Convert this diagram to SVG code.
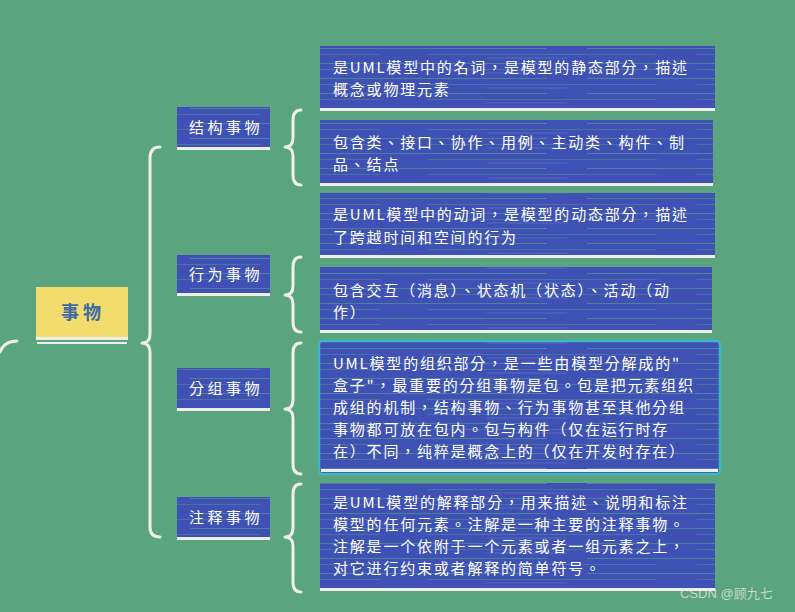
<svg xmlns="http://www.w3.org/2000/svg" width="795" height="612" viewBox="0 0 795 612">
<defs>
<pattern id="streak" width="397" height="15" patternUnits="userSpaceOnUse">
<rect width="397" height="15" fill="#3f51b5"/>
<path d="M0 3.5 H150 M190 3.5 H397" stroke="#55a08a" stroke-width="1" opacity="0.6"/>
<path d="M30 9.5 H260 M300 9.5 H380" stroke="#5aa47f" stroke-width="0.8" opacity="0.5"/>
<path d="M90 13 H170" stroke="#7f8fd8" stroke-width="0.7" opacity="0.5"/>
</pattern>
<style>
.bg{fill:#5aa47f}
.box{fill:url(#streak)}
.ul{fill:#eeeeea}
.t{font-family:"Noto Sans CJK TC","Noto Sans CJK SC",sans-serif;font-size:15px;fill:#ffffff;letter-spacing:1.8px}
.nt{font-family:"Noto Sans CJK TC","Noto Sans CJK SC",sans-serif;font-size:15px;fill:#ffffff;letter-spacing:3.5px;text-anchor:middle}
.rt{font-family:"Noto Sans CJK TC","Noto Sans CJK SC",sans-serif;font-size:18px;font-weight:bold;fill:#3d6aa6;letter-spacing:4px;text-anchor:middle}
.br{fill:none;stroke:#efefeb;stroke-width:3;stroke-linecap:round;stroke-linejoin:round}
</style>
</defs>
<rect class="bg" x="0" y="0" width="795" height="612"/>

<g id="connectors">
<path class="br" d="M0 352 Q4 341 17 341"/>
<path class="br" d="M160 147 Q150 147 150 158 L150 334 Q150 343 142 343 Q150 343 150 352 L150 527 Q150 537 160 537"/>
<path class="br" d="M301 110 Q293 110 293 120 L293 138 Q293 147 285 147 Q293 147 293 156 L293 175 Q293 185 301 185"/>
<path class="br" d="M301 257 Q293 257 293 267 L293 286 Q293 295 285 295 Q293 295 293 304 L293 322 Q293 332 301 332"/>
<path class="br" d="M301 343 Q293 343 293 353 L293 400 Q293 409 285 409 Q293 409 293 418 L293 464 Q293 474 301 474"/>
<path class="br" d="M301 484 Q293 484 293 494 L293 528 Q293 537 285 537 Q293 537 293 546 L293 582 Q293 592 301 592"/>
</g>

<g id="root">
<rect x="36" y="287" width="92" height="50" fill="#f2dc6b"/>
<rect class="ul" x="36" y="337" width="92" height="3"/>
<rect class="ul" x="37" y="342" width="90" height="2"/>
<text class="rt" x="83" y="319">事物</text>
</g>

<g id="node-structure">
<rect class="box" x="177" y="107" width="93" height="40"/>
<rect class="ul" x="177" y="147" width="93" height="3"/>
<text class="nt" x="226" y="133">结构事物</text>
</g>
<g id="node-behavior">
<rect class="box" x="177" y="255" width="93" height="38"/>
<rect class="ul" x="177" y="293" width="93" height="3"/>
<text class="nt" x="226" y="280">行为事物</text>
</g>
<g id="node-grouping">
<rect class="box" x="177" y="368" width="93" height="40"/>
<rect class="ul" x="177" y="408" width="93" height="3"/>
<text class="nt" x="226" y="394">分组事物</text>
</g>
<g id="node-annotation">
<rect class="box" x="177" y="497" width="93" height="40"/>
<rect class="ul" x="177" y="537" width="93" height="3"/>
<text class="nt" x="226" y="523">注释事物</text>
</g>

<g id="desc-structure-1">
<rect class="box" x="320" y="46" width="395" height="62"/>
<rect class="ul" x="320" y="108" width="395" height="3"/>
<text class="t" x="333" y="73">是UML模型中的名词，是模型的静态部分，描述</text>
<text class="t" x="333" y="95">概念或物理元素</text>
</g>
<g id="desc-structure-2">
<rect class="box" x="320" y="120" width="393" height="63"/>
<rect class="ul" x="320" y="183" width="393" height="3"/>
<text class="t" x="333" y="148">包含类、接口、协作、用例、主动类、构件、制</text>
<text class="t" x="333" y="170">品、结点</text>
</g>
<g id="desc-behavior-1">
<rect class="box" x="320" y="193" width="395" height="62"/>
<rect class="ul" x="320" y="255" width="395" height="3"/>
<text class="t" x="333" y="220">是UML模型中的动词，是模型的动态部分，描述</text>
<text class="t" x="333" y="243">了跨越时间和空间的行为</text>
</g>
<g id="desc-behavior-2">
<rect class="box" x="320" y="267" width="392" height="63"/>
<rect class="ul" x="320" y="330" width="392" height="3"/>
<text class="t" x="333" y="296">包含交互（消息）、状态机（状态）、活动（动</text>
<text class="t" x="333" y="318">作）</text>
</g>
<g id="desc-grouping">
<rect class="box" x="319" y="341" width="401" height="133" rx="3" stroke="#3ab8c4" stroke-width="2.5"/>
<rect class="ul" x="321" y="469" width="397" height="3"/>
<text class="t" x="333" y="369">UML模型的组织部分，是一些由模型分解成的"</text>
<text class="t" x="333" y="391">盒子"，最重要的分组事物是包。包是把元素组织</text>
<text class="t" x="333" y="413">成组的机制，结构事物、行为事物甚至其他分组</text>
<text class="t" x="333" y="435">事物都可放在包内。包与构件（仅在运行时存</text>
<text class="t" x="333" y="457">在）不同，纯粹是概念上的（仅在开发时存在）</text>
</g>
<g id="desc-annotation">
<rect class="box" x="320" y="483" width="395" height="105"/>
<rect class="ul" x="320" y="588" width="395" height="3"/>
<text class="t" x="333" y="508">是UML模型的解释部分，用来描述、说明和标注</text>
<text class="t" x="333" y="530">模型的任何元素。注解是一种主要的注释事物。</text>
<text class="t" x="333" y="552">注解是一个依附于一个元素或者一组元素之上，</text>
<text class="t" x="333" y="574">对它进行约束或者解释的简单符号。</text>
</g>

<text x="680" y="598" font-family="'Liberation Sans','Noto Sans CJK SC',sans-serif" font-size="13" fill="#e8eee9" fill-opacity="0.75">CSDN @顾九七</text>
</svg>
